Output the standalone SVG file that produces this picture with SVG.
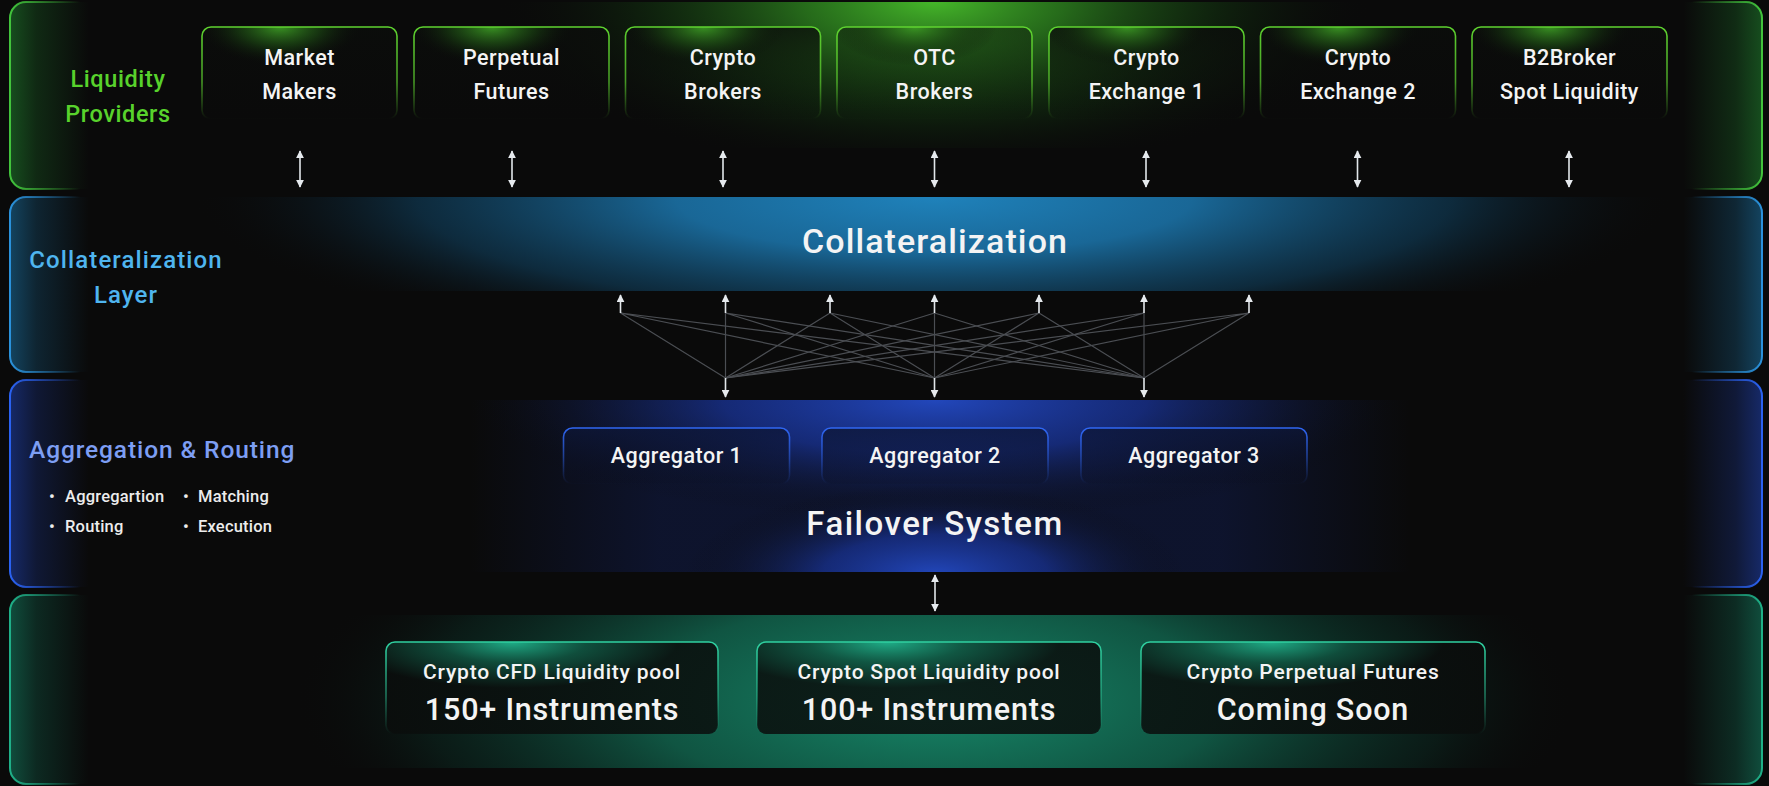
<svg xmlns="http://www.w3.org/2000/svg" width="1769" height="786" viewBox="0 0 1769 786">
<defs>
<style>
text{font-family:Roboto,"Liberation Sans",sans-serif;font-weight:500;fill:#f4f4f4;text-anchor:middle}
.lp{fill:#58d22c;font-size:23.5px;letter-spacing:0.6px}
.cl{fill:#4fb5ef;font-size:24px;letter-spacing:1.1px}
.ar{fill:#7d9ef3;font-size:24.5px;text-anchor:start;letter-spacing:0.9px}
.bl{font-size:16.5px;text-anchor:start;fill:#ececec;letter-spacing:0.2px}
.nb{font-size:21.5px;letter-spacing:0.5px}
.ag{font-size:21.5px;letter-spacing:0.5px}
.big{font-size:34px;letter-spacing:1.1px}
.fs{font-size:33px;letter-spacing:1.5px}
.p1{font-size:21px;letter-spacing:0.8px}
.p2{font-size:30.5px;letter-spacing:0.8px}
.bs{fill:none;stroke-width:2}
.mesh{stroke:#4b4e53;stroke-width:1.2;fill:none}
.arr{stroke:#e2e6ea;stroke-width:1.6;fill:none;marker-end:url(#ah)}
.arr2{stroke:#e2e6ea;stroke-width:1.6;fill:none;marker-end:url(#ah);marker-start:url(#ah)}
.gbox{fill:url(#gBoxG)}
.bbox{fill:url(#gBoxB)}
.tbox{fill:url(#gBoxT)}
</style>
<marker id="ah" viewBox="0 0 10 10" refX="9" refY="5" markerWidth="8" markerHeight="8" markerUnits="userSpaceOnUse" orient="auto-start-reverse"><path d="M0,0 L10,5 L0,10 z" fill="#e6eaee"/></marker>
<linearGradient id="fG" gradientUnits="userSpaceOnUse" x1="10" y1="0" x2="1762" y2="0"><stop offset="0" stop-color="#1f7a2c" stop-opacity="0.6"/><stop offset="0.015" stop-color="#1f7a2c" stop-opacity="0.28"/><stop offset="0.045" stop-color="#1f7a2c" stop-opacity="0"/><stop offset="0.955" stop-color="#1f7a2c" stop-opacity="0"/><stop offset="0.985" stop-color="#1f7a2c" stop-opacity="0.3"/><stop offset="1" stop-color="#1f7a2c" stop-opacity="0.6"/></linearGradient>
<linearGradient id="sG" gradientUnits="userSpaceOnUse" x1="10" y1="0" x2="1762" y2="0"><stop offset="0" stop-color="#42c43c"/><stop offset="0.04" stop-color="#42c43c" stop-opacity="0"/><stop offset="0.96" stop-color="#42c43c" stop-opacity="0"/><stop offset="1" stop-color="#42c43c"/></linearGradient>
<linearGradient id="fC" gradientUnits="userSpaceOnUse" x1="10" y1="0" x2="1762" y2="0"><stop offset="0" stop-color="#1a6a98" stop-opacity="0.6"/><stop offset="0.015" stop-color="#1a6a98" stop-opacity="0.28"/><stop offset="0.045" stop-color="#1a6a98" stop-opacity="0"/><stop offset="0.955" stop-color="#1a6a98" stop-opacity="0"/><stop offset="0.985" stop-color="#1a6a98" stop-opacity="0.3"/><stop offset="1" stop-color="#1a6a98" stop-opacity="0.6"/></linearGradient>
<linearGradient id="sC" gradientUnits="userSpaceOnUse" x1="10" y1="0" x2="1762" y2="0"><stop offset="0" stop-color="#2a92dc"/><stop offset="0.04" stop-color="#2a92dc" stop-opacity="0"/><stop offset="0.96" stop-color="#2a92dc" stop-opacity="0"/><stop offset="1" stop-color="#2a92dc"/></linearGradient>
<linearGradient id="fA" gradientUnits="userSpaceOnUse" x1="10" y1="0" x2="1762" y2="0"><stop offset="0" stop-color="#1d3a9a" stop-opacity="0.65"/><stop offset="0.015" stop-color="#1d3a9a" stop-opacity="0.3"/><stop offset="0.045" stop-color="#1d3a9a" stop-opacity="0"/><stop offset="0.955" stop-color="#1d3a9a" stop-opacity="0"/><stop offset="0.985" stop-color="#1d3a9a" stop-opacity="0.32"/><stop offset="1" stop-color="#1d3a9a" stop-opacity="0.65"/></linearGradient>
<linearGradient id="sA" gradientUnits="userSpaceOnUse" x1="10" y1="0" x2="1762" y2="0"><stop offset="0" stop-color="#2a62f2"/><stop offset="0.04" stop-color="#2a62f2" stop-opacity="0"/><stop offset="0.96" stop-color="#2a62f2" stop-opacity="0"/><stop offset="1" stop-color="#2a62f2"/></linearGradient>
<linearGradient id="fT" gradientUnits="userSpaceOnUse" x1="10" y1="0" x2="1762" y2="0"><stop offset="0" stop-color="#147a5e" stop-opacity="0.6"/><stop offset="0.015" stop-color="#147a5e" stop-opacity="0.28"/><stop offset="0.045" stop-color="#147a5e" stop-opacity="0"/><stop offset="0.955" stop-color="#147a5e" stop-opacity="0"/><stop offset="0.985" stop-color="#147a5e" stop-opacity="0.3"/><stop offset="1" stop-color="#147a5e" stop-opacity="0.6"/></linearGradient>
<linearGradient id="sT" gradientUnits="userSpaceOnUse" x1="10" y1="0" x2="1762" y2="0"><stop offset="0" stop-color="#1fb088"/><stop offset="0.04" stop-color="#1fb088" stop-opacity="0"/><stop offset="0.96" stop-color="#1fb088" stop-opacity="0"/><stop offset="1" stop-color="#1fb088"/></linearGradient>
<radialGradient id="rgGreen" cx="0.5" cy="0.5" r="0.5"><stop offset="0" stop-color="#46b82a"/><stop offset="0.3" stop-color="#2f8a20" stop-opacity="0.75"/><stop offset="0.65" stop-color="#184d14" stop-opacity="0.35"/><stop offset="1" stop-color="#0a0a0a" stop-opacity="0"/></radialGradient>
<radialGradient id="rgBlue" cx="0.5" cy="0.5" r="0.5"><stop offset="0" stop-color="#1f82bb"/><stop offset="0.35" stop-color="#1a6c9e" stop-opacity="0.95"/><stop offset="0.7" stop-color="#10405e" stop-opacity="0.6"/><stop offset="1" stop-color="#0a0a0a" stop-opacity="0"/></radialGradient>
<radialGradient id="rgNavy" cx="0.5" cy="0.5" r="0.5"><stop offset="0" stop-color="#2247bb"/><stop offset="0.45" stop-color="#18318e" stop-opacity="0.75"/><stop offset="1" stop-color="#0a0a0a" stop-opacity="0"/></radialGradient>
<linearGradient id="lgNavy" x1="0" y1="0" x2="1" y2="0"><stop offset="0" stop-color="#101a44" stop-opacity="0"/><stop offset="0.2" stop-color="#101a44" stop-opacity="0.6"/><stop offset="0.8" stop-color="#101a44" stop-opacity="0.6"/><stop offset="1" stop-color="#101a44" stop-opacity="0"/></linearGradient>
<radialGradient id="rgTeal" cx="0.5" cy="0.5" r="0.5"><stop offset="0" stop-color="#178a6b"/><stop offset="0.45" stop-color="#11624c" stop-opacity="0.85"/><stop offset="0.8" stop-color="#0c3a2e" stop-opacity="0.35"/><stop offset="1" stop-color="#0a0a0a" stop-opacity="0"/></radialGradient>
<linearGradient id="sBoxG" x1="0" y1="0" x2="0" y2="1"><stop offset="0" stop-color="#5ed22f"/><stop offset="0.6" stop-color="#5ed22f" stop-opacity="0.7"/><stop offset="1" stop-color="#5ed22f" stop-opacity="0"/></linearGradient>
<radialGradient id="gBoxG" cx="0.4" cy="0" r="0.42"><stop offset="0" stop-color="#3c9a24" stop-opacity="0.95"/><stop offset="0.5" stop-color="#1d4d14" stop-opacity="0.6"/><stop offset="1" stop-color="#0a0c0a" stop-opacity="0"/></radialGradient>
<linearGradient id="baseG" x1="0" y1="0" x2="0" y2="1"><stop offset="0" stop-color="#0b0d0b" stop-opacity="0.8"/><stop offset="1" stop-color="#0b0d0b" stop-opacity="0"/></linearGradient>
<linearGradient id="sBoxB" x1="0" y1="0" x2="0" y2="1"><stop offset="0" stop-color="#2f66f2"/><stop offset="0.55" stop-color="#2f66f2" stop-opacity="0.5"/><stop offset="1" stop-color="#2f66f2" stop-opacity="0"/></linearGradient>
<linearGradient id="gBoxB" x1="0" y1="0" x2="0" y2="1"><stop offset="0" stop-color="#0d1636" stop-opacity="0.8"/><stop offset="1" stop-color="#0b0f22" stop-opacity="0.2"/></linearGradient>
<linearGradient id="sBoxT" x1="0" y1="0" x2="0" y2="1"><stop offset="0" stop-color="#2fd0a0"/><stop offset="0.6" stop-color="#2fd0a0" stop-opacity="0.5"/><stop offset="1" stop-color="#2fd0a0" stop-opacity="0"/></linearGradient>
<radialGradient id="gBoxT" cx="0.38" cy="0" r="0.5"><stop offset="0" stop-color="#1fae88"/><stop offset="0.45" stop-color="#10523f" stop-opacity="0.85"/><stop offset="1" stop-color="#0a0d0c" stop-opacity="0.85"/></radialGradient>
<clipPath id="cTop"><rect x="10" y="2" width="1752" height="146"/></clipPath>
<clipPath id="cCol"><rect x="10" y="197" width="1752" height="94"/></clipPath>
<clipPath id="cFail"><rect x="470" y="400" width="940" height="172"/></clipPath>
<clipPath id="cPool"><rect x="10" y="615" width="1752" height="153"/></clipPath>
</defs>
<rect width="1769" height="786" fill="#0a0a0a"/>

<g id="band-liquidity">
<rect x="10" y="2" width="1752" height="187" rx="16" fill="url(#fG)"/>
<g clip-path="url(#cTop)"><ellipse cx="934" cy="0" rx="440" ry="175" fill="url(#rgGreen)"/></g>
<rect x="10" y="2" width="1752" height="187" rx="16" class="bs" stroke="url(#sG)"/>
<text class="lp" x="118" y="87">Liquidity</text>
<text class="lp" x="118" y="122">Providers</text>
</g>
<g id="band-collateral">
<rect x="10" y="197" width="1752" height="175" rx="16" fill="url(#fC)"/>
<g clip-path="url(#cCol)"><ellipse cx="934" cy="197" rx="740" ry="160" fill="url(#rgBlue)"/></g>
<rect x="10" y="197" width="1752" height="175" rx="16" class="bs" stroke="url(#sC)"/>
<text class="cl" x="126" y="268">Collateralization</text>
<text class="cl" x="126" y="303">Layer</text>
</g>
<g id="band-aggregation">
<rect x="10" y="380" width="1752" height="207" rx="16" fill="url(#fA)"/>
<g clip-path="url(#cFail)">
<rect x="470" y="400" width="940" height="172" fill="url(#lgNavy)"/>
<ellipse cx="935" cy="400" rx="470" ry="120" fill="url(#rgNavy)"/>
<ellipse cx="935" cy="575" rx="250" ry="90" fill="url(#rgNavy)"/>
</g>
<rect x="10" y="380" width="1752" height="207" rx="16" class="bs" stroke="url(#sA)"/>
<text class="ar" x="29" y="458">Aggregation &amp; Routing</text>
<text class="bl" x="49" y="502">•</text><text class="bl" x="65" y="502">Aggregartion</text>
<text class="bl" x="183" y="502">•</text><text class="bl" x="198" y="502">Matching</text>
<text class="bl" x="49" y="532">•</text><text class="bl" x="65" y="532">Routing</text>
<text class="bl" x="183" y="532">•</text><text class="bl" x="198" y="532">Execution</text>
</g>
<g id="band-pools">
<rect x="10" y="595" width="1752" height="189" rx="16" fill="url(#fT)"/>
<g clip-path="url(#cPool)"><ellipse cx="935" cy="700" rx="640" ry="230" fill="url(#rgTeal)"/></g>
<rect x="10" y="595" width="1752" height="189" rx="16" class="bs" stroke="url(#sT)"/>
</g>

<g id="lp-market-makers"><rect x="202" y="27" width="195" height="92" rx="9" fill="url(#baseG)"/><rect x="202" y="27" width="195" height="92" rx="9" class="gbox"/><rect x="202" y="27" width="195" height="92" rx="9" fill="none" stroke="url(#sBoxG)" stroke-width="1.6"/><text class="nb" x="299.5" y="65">Market</text><text class="nb" x="299.5" y="99">Makers</text></g>
<g id="lp-perpetual-futures"><rect x="414" y="27" width="195" height="92" rx="9" fill="url(#baseG)"/><rect x="414" y="27" width="195" height="92" rx="9" class="gbox"/><rect x="414" y="27" width="195" height="92" rx="9" fill="none" stroke="url(#sBoxG)" stroke-width="1.6"/><text class="nb" x="511.5" y="65">Perpetual</text><text class="nb" x="511.5" y="99">Futures</text></g>
<g id="lp-crypto-brokers"><rect x="625.5" y="27" width="195" height="92" rx="9" fill="url(#baseG)"/><rect x="625.5" y="27" width="195" height="92" rx="9" class="gbox"/><rect x="625.5" y="27" width="195" height="92" rx="9" fill="none" stroke="url(#sBoxG)" stroke-width="1.6"/><text class="nb" x="723" y="65">Crypto</text><text class="nb" x="723" y="99">Brokers</text></g>
<g id="lp-otc-brokers"><rect x="837" y="27" width="195" height="92" rx="9" fill="url(#baseG)" opacity="0.6"/><rect x="837" y="27" width="195" height="92" rx="9" class="gbox"/><rect x="837" y="27" width="195" height="92" rx="9" fill="none" stroke="url(#sBoxG)" stroke-width="1.6"/><text class="nb" x="934.5" y="65">OTC</text><text class="nb" x="934.5" y="99">Brokers</text></g>
<g id="lp-crypto-exchange-1"><rect x="1049" y="27" width="195" height="92" rx="9" fill="url(#baseG)"/><rect x="1049" y="27" width="195" height="92" rx="9" class="gbox"/><rect x="1049" y="27" width="195" height="92" rx="9" fill="none" stroke="url(#sBoxG)" stroke-width="1.6"/><text class="nb" x="1146.5" y="65">Crypto</text><text class="nb" x="1146.5" y="99">Exchange 1</text></g>
<g id="lp-crypto-exchange-2"><rect x="1260.5" y="27" width="195" height="92" rx="9" fill="url(#baseG)"/><rect x="1260.5" y="27" width="195" height="92" rx="9" class="gbox"/><rect x="1260.5" y="27" width="195" height="92" rx="9" fill="none" stroke="url(#sBoxG)" stroke-width="1.6"/><text class="nb" x="1358" y="65">Crypto</text><text class="nb" x="1358" y="99">Exchange 2</text></g>
<g id="lp-b2broker-spot"><rect x="1472" y="27" width="195" height="92" rx="9" fill="url(#baseG)"/><rect x="1472" y="27" width="195" height="92" rx="9" class="gbox"/><rect x="1472" y="27" width="195" height="92" rx="9" fill="none" stroke="url(#sBoxG)" stroke-width="1.6"/><text class="nb" x="1569.5" y="65">B2Broker</text><text class="nb" x="1569.5" y="99">Spot Liquidity</text></g>

<g id="collateralization"><text class="big" x="935" y="253">Collateralization</text></g>

<g id="aggregator-1"><rect x="563.5" y="428" width="226" height="56" rx="9" class="bbox"/><rect x="563.5" y="428" width="226" height="56" rx="9" fill="none" stroke="url(#sBoxB)" stroke-width="1.6"/><text class="ag" x="676.5" y="463">Aggregator 1</text></g>
<g id="aggregator-2"><rect x="822" y="428" width="226" height="56" rx="9" class="bbox"/><rect x="822" y="428" width="226" height="56" rx="9" fill="none" stroke="url(#sBoxB)" stroke-width="1.6"/><text class="ag" x="935" y="463">Aggregator 2</text></g>
<g id="aggregator-3"><rect x="1081" y="428" width="226" height="56" rx="9" class="bbox"/><rect x="1081" y="428" width="226" height="56" rx="9" fill="none" stroke="url(#sBoxB)" stroke-width="1.6"/><text class="ag" x="1194" y="463">Aggregator 3</text></g>
<g id="failover-system"><text class="fs" x="935" y="535">Failover System</text></g>

<g id="pool-cfd"><rect x="386" y="642" width="332" height="92" rx="9" class="tbox"/><rect x="386" y="642" width="332" height="92" rx="9" fill="none" stroke="url(#sBoxT)" stroke-width="1.6"/><text class="p1" x="552" y="679">Crypto CFD Liquidity pool</text><text class="p2" x="552" y="720">150+ Instruments</text></g>
<g id="pool-spot"><rect x="757" y="642" width="344" height="92" rx="9" class="tbox"/><rect x="757" y="642" width="344" height="92" rx="9" fill="none" stroke="url(#sBoxT)" stroke-width="1.6"/><text class="p1" x="929" y="679">Crypto Spot Liquidity pool</text><text class="p2" x="929" y="720">100+ Instruments</text></g>
<g id="pool-perpetual"><rect x="1141" y="642" width="344" height="92" rx="9" class="tbox"/><rect x="1141" y="642" width="344" height="92" rx="9" fill="none" stroke="url(#sBoxT)" stroke-width="1.6"/><text class="p1" x="1313" y="679">Crypto Perpetual Futures</text><text class="p2" x="1313" y="720">Coming Soon</text></g>

<g id="connectors">
<line class="arr2" x1="300" y1="151" x2="300" y2="187"/>
<line class="arr2" x1="512" y1="151" x2="512" y2="187"/>
<line class="arr2" x1="723" y1="151" x2="723" y2="187"/>
<line class="arr2" x1="934.5" y1="151" x2="934.5" y2="187"/>
<line class="arr2" x1="1146" y1="151" x2="1146" y2="187"/>
<line class="arr2" x1="1357.5" y1="151" x2="1357.5" y2="187"/>
<line class="arr2" x1="1569" y1="151" x2="1569" y2="187"/>
<g class="mesh">
<path d="M620.5,313 L725.5,378 M620.5,313 L934.5,378 M620.5,313 L1144,378"/>
<path d="M725.5,313 L725.5,378 M725.5,313 L934.5,378 M725.5,313 L1144,378"/>
<path d="M830,313 L725.5,378 M830,313 L934.5,378 M830,313 L1144,378"/>
<path d="M934.5,313 L725.5,378 M934.5,313 L934.5,378 M934.5,313 L1144,378"/>
<path d="M1039,313 L725.5,378 M1039,313 L934.5,378 M1039,313 L1144,378"/>
<path d="M1144,313 L725.5,378 M1144,313 L934.5,378 M1144,313 L1144,378"/>
<path d="M1249,313 L725.5,378 M1249,313 L934.5,378 M1249,313 L1144,378"/>
</g>
<line class="arr" x1="620.5" y1="313" x2="620.5" y2="295"/>
<line class="arr" x1="725.5" y1="313" x2="725.5" y2="295"/>
<line class="arr" x1="830" y1="313" x2="830" y2="295"/>
<line class="arr" x1="934.5" y1="313" x2="934.5" y2="295"/>
<line class="arr" x1="1039" y1="313" x2="1039" y2="295"/>
<line class="arr" x1="1144" y1="313" x2="1144" y2="295"/>
<line class="arr" x1="1249" y1="313" x2="1249" y2="295"/>
<line class="arr" x1="725.5" y1="378" x2="725.5" y2="397"/>
<line class="arr" x1="934.5" y1="378" x2="934.5" y2="397"/>
<line class="arr" x1="1144" y1="378" x2="1144" y2="397"/>
<line class="arr2" x1="935" y1="575" x2="935" y2="611"/>
</g>
</svg>
